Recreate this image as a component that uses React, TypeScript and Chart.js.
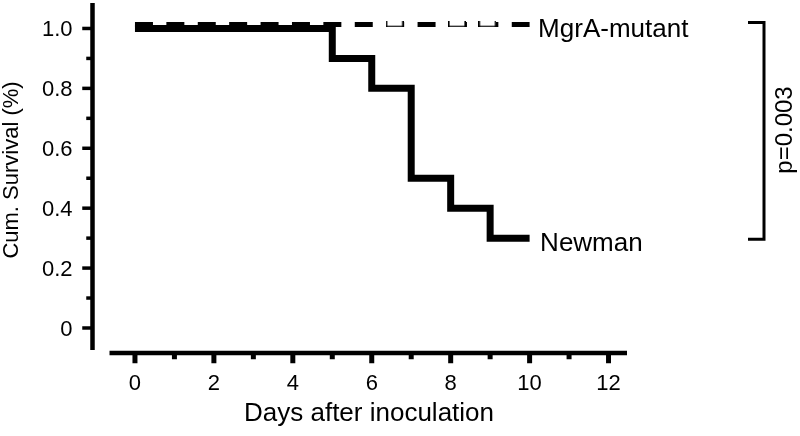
import React, { useEffect, useRef } from "react";
import { Chart, registerables } from "chart.js";

Chart.register(...registerables);

// ---- data ----
const newmanDays = [0, 5, 6, 7, 8, 9, 10];
const newmanSurvival = [1.0, 0.9, 0.8, 0.5, 0.4, 0.3, 0.3];
const mutantDays = [0, 10];
const mutantSurvival = [1.0, 1.0];
const mutantCensorDays = [6.58, 8.16, 8.93];
const mutantCensorSurvival = [1.0, 1.0, 1.0];

const xTickValues = [0, 1, 2, 3, 4, 5, 6, 7, 8, 9, 10, 11, 12];
const xTickLabels = ["0", "", "2", "", "4", "", "6", "", "8", "", "10", "", "12"];
const yTickValues = [0, 0.1, 0.2, 0.3, 0.4, 0.5, 0.6, 0.7, 0.8, 0.9, 1.0];
const yTickLabels = ["0", "", "0.2", "", "0.4", "", "0.6", "", "0.8", "", "1.0"];

const seriesNames = ["Newman", "MgrA-mutant"];
const xTitle = "Days after inoculation";
const yTitle = "Cum. Survival (%)";
const pValueLabel = "p=0.003";

// ---- scale ranges (axis extents, detached "Prism" style) ----
const X_MIN = -1.076;
const X_MAX = 12.468;
const Y_MIN = -0.0835;
const Y_MAX = 1.085;
const X_AXIS_START = -0.645;
const Y_AXIS_END = -0.0735;

const FONT = '"Liberation Sans", Arial, Helvetica, sans-serif';

function makeCensorMark(): HTMLCanvasElement {
  const c = document.createElement("canvas");
  c.width = 18;
  c.height = 6;
  const g = c.getContext("2d")!;
  g.fillStyle = "#fff";
  g.fillRect(0, 0, 18, 6);
  g.fillStyle = "#000";
  g.fillRect(0, 0, 1.6, 6);
  g.fillRect(16.4, 0, 1.6, 6);
  g.fillRect(0, 4.4, 18, 1.6);
  return c;
}

const kmPlugin = {
  id: "kmDecor",
  beforeDatasetDraw(chart: any, args: any) {
    if (args.index >= 1) {
      chart.ctx.save();
      chart.ctx.translate(0, -4);
    }
  },
  afterDatasetDraw(chart: any, args: any) {
    if (args.index >= 1) chart.ctx.restore();
  },
  beforeDatasetsDraw(chart: any) {
    const { ctx, chartArea, scales } = chart;
    const x = scales.x;
    const y = scales.y;
    ctx.save();
    ctx.strokeStyle = "#000";
    ctx.fillStyle = "#000";
    ctx.lineCap = "butt";

    // y axis
    const ax = chartArea.left;
    ctx.lineWidth = 4.5;
    ctx.beginPath();
    ctx.moveTo(ax, chartArea.top);
    ctx.lineTo(ax, y.getPixelForValue(Y_AXIS_END));
    ctx.stroke();

    ctx.font = `22px ${FONT}`;
    ctx.textAlign = "right";
    ctx.textBaseline = "alphabetic";
    yTickValues.forEach((v, i) => {
      const py = y.getPixelForValue(v);
      const major = yTickLabels[i] !== "";
      const len = major ? 8 : 4;
      ctx.lineWidth = 3.5;
      ctx.beginPath();
      ctx.moveTo(ax - 2.25 - len, py);
      ctx.lineTo(ax, py);
      ctx.stroke();
      if (major) ctx.fillText(yTickLabels[i], ax - 20, py + 8);
    });

    // x axis
    const ay = chartArea.bottom;
    ctx.lineWidth = 4.5;
    ctx.beginPath();
    ctx.moveTo(x.getPixelForValue(X_AXIS_START), ay);
    ctx.lineTo(chartArea.right, ay);
    ctx.stroke();

    ctx.textAlign = "center";
    xTickValues.forEach((v, i) => {
      const px = x.getPixelForValue(v);
      const major = xTickLabels[i] !== "";
      const len = major ? 8 : 4;
      ctx.lineWidth = 5;
      ctx.beginPath();
      ctx.moveTo(px, ay);
      ctx.lineTo(px, ay + 2.25 + len);
      ctx.stroke();
      if (major) ctx.fillText(xTickLabels[i], px, ay + 37);
    });

    // axis titles
    ctx.font = `26px ${FONT}`;
    ctx.fillText(xTitle, 369, 421);

    ctx.save();
    ctx.font = `22px ${FONT}`;
    ctx.translate(18, 170);
    ctx.rotate(-Math.PI / 2);
    ctx.textAlign = "center";
    ctx.fillText(yTitle, 0, 0);
    ctx.restore();

    ctx.restore();
  },
  afterDraw(chart: any) {
    const { ctx, scales } = chart;
    const x = scales.x;
    const y = scales.y;
    ctx.save();
    ctx.fillStyle = "#000";
    ctx.strokeStyle = "#000";
    ctx.font = `26px ${FONT}`;
    ctx.textAlign = "left";
    ctx.textBaseline = "alphabetic";

    const mEndX = x.getPixelForValue(mutantDays[mutantDays.length - 1]);
    const mEndY = y.getPixelForValue(mutantSurvival[mutantSurvival.length - 1]);
    ctx.fillText(seriesNames[1], mEndX + 8.5, mEndY + 8.5);

    const nEndX = x.getPixelForValue(newmanDays[newmanDays.length - 1]);
    const nEndY = y.getPixelForValue(newmanSurvival[newmanSurvival.length - 1]);
    ctx.fillText(seriesNames[0], nEndX + 10.5, nEndY + 13);

    // significance bracket
    const bx = 764;
    const top = mEndY - 6;
    const bot = nEndY + 1;
    ctx.lineWidth = 3;
    ctx.lineCap = "butt";
    ctx.lineJoin = "miter";
    ctx.beginPath();
    ctx.moveTo(748, top);
    ctx.lineTo(bx, top);
    ctx.lineTo(bx, bot);
    ctx.lineTo(748, bot);
    ctx.stroke();

    ctx.save();
    ctx.font = `24px ${FONT}`;
    ctx.translate(792, 130);
    ctx.rotate(-Math.PI / 2);
    ctx.textAlign = "center";
    ctx.fillText(pValueLabel, 0, 0);
    ctx.restore();

    ctx.restore();
  },
};

export default function App() {
  const canvasRef = useRef<HTMLCanvasElement | null>(null);

  useEffect(() => {
    document.body.style.margin = "0";
    const canvas = canvasRef.current;
    if (!canvas) return;
    const censorMark = makeCensorMark();
    const chart = new Chart(canvas, {
      type: "line",
      data: {
        datasets: [
          {
            label: seriesNames[0],
            data: newmanDays.map((d, i) => ({ x: d, y: newmanSurvival[i] })),
            stepped: true,
            borderColor: "#000",
            borderWidth: 7,
            borderJoinStyle: "miter",
            borderCapStyle: "butt",
            pointRadius: 0,
            fill: false,
            order: 0,
          },
          {
            label: seriesNames[1],
            data: mutantDays.map((d, i) => ({ x: d, y: mutantSurvival[i] })),
            stepped: true,
            borderColor: "#000",
            borderWidth: 5,
            borderDash: [18, 13.4],
            borderCapStyle: "butt",
            pointRadius: 0,
            fill: false,
            order: 1,
          },
          {
            label: seriesNames[1] + " censored",
            data: mutantCensorDays.map((d, i) => ({ x: d, y: mutantCensorSurvival[i] })),
            showLine: false,
            pointStyle: censorMark,
            pointRadius: 9,
            order: -1,
          },
        ],
      },
      options: {
        animation: false,
        responsive: true,
        maintainAspectRatio: false,
        events: [],
        layout: { autoPadding: false, padding: { left: 92.5, right: 173, top: 3, bottom: 83 } },
        plugins: { legend: { display: false }, tooltip: { enabled: false } },
        scales: {
          x: { type: "linear", min: X_MIN, max: X_MAX, display: false },
          y: { type: "linear", min: Y_MIN, max: Y_MAX, display: false },
        },
      },
      plugins: [kmPlugin],
    } as any);
    return () => chart.destroy();
  }, []);

  return (
    <div style={{ width: 800, height: 436, position: "relative", background: "#fff" }}>
      <canvas ref={canvasRef} />
    </div>
  );
}
